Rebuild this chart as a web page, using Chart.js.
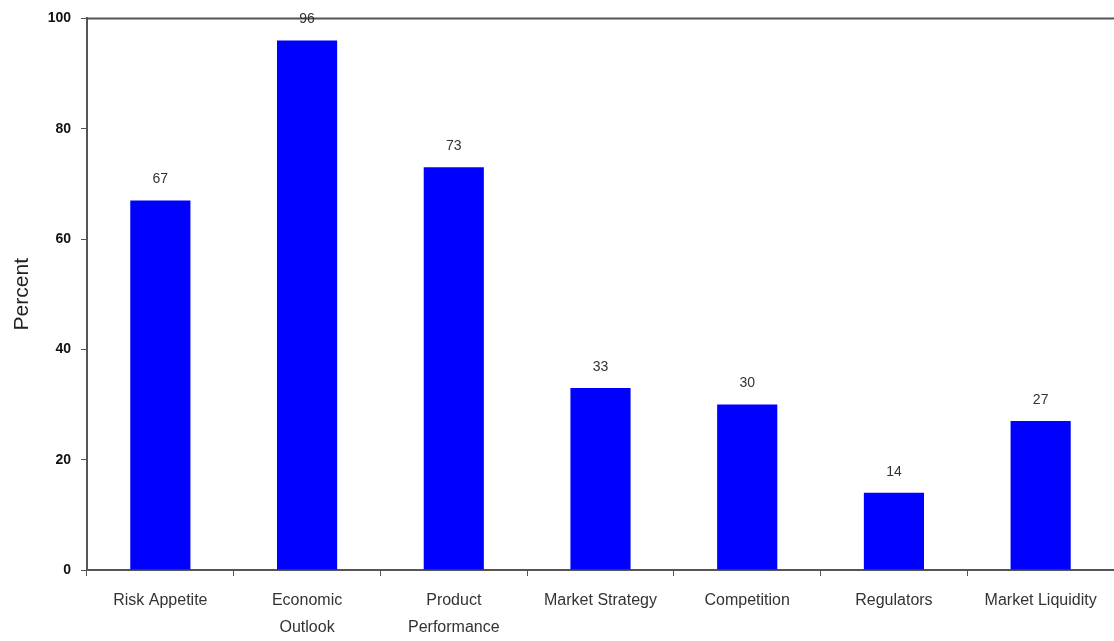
<!DOCTYPE html>
<html>
<head>
<meta charset="utf-8">
<script src="https://cdn.jsdelivr.net/npm/chart.js@4"></script>
<style>
  html, body { margin: 0; padding: 0; background: #fff; overflow: hidden; }
  #wrap { width: 1114px; height: 641px; }
</style>
</head>
<body>
<div id="wrap"><canvas id="myChart"></canvas></div>
<script>
// Chart data
var categories = ['Risk Appetite', ['Economic', 'Outlook'], ['Product', 'Performance'], 'Market Strategy', 'Competition', 'Regulators', 'Market Liquidity'];
var percents = [67, 96, 73, 33, 30, 14, 27];
var yTicks = [0, 20, 40, 60, 80, 100];

// Draws the value above every bar and the top frame line
const barLabels = {
  id: 'barLabels',
  afterDatasetsDraw(chart) {
    const ctx = chart.ctx;
    const area = chart.chartArea;
    ctx.save();
    ctx.strokeStyle = '#555';
    ctx.lineWidth = 2;
    ctx.beginPath();
    ctx.moveTo(area.left, area.top);
    ctx.lineTo(area.right, area.top);
    ctx.stroke();

    ctx.fillStyle = '#333';
    ctx.font = '14px Arial, "Liberation Sans"';
    ctx.textAlign = 'center';
    ctx.textBaseline = 'middle';
    chart.getDatasetMeta(0).data.forEach((bar, i) => {
      ctx.fillText(percents[i], bar.x, bar.y - 21);
    });
    ctx.restore();
  }
};

const ctx = document.getElementById('myChart');
var myChart = new Chart(ctx, {
  type: 'bar',
  data: {
    labels: categories,
    datasets: [{
      data: percents,
      backgroundColor: '#0000ff',
      categoryPercentage: 1,
      barPercentage: 0.41,
    }]
  },
  options: {
    responsive: true,
    maintainAspectRatio: false,
    animation: false,
    layout: { padding: { top: 18, right: 0, bottom: 0, left: 0 } },
    plugins: {
      legend: { display: false },
      tooltip: { enabled: false },
    },
    scales: {
      x: {
        offset: true,
        grid: { offset: true, drawOnChartArea: false, drawTicks: true, tickLength: 6, color: '#555' },
        border: { display: true, color: '#555', width: 2 },
        ticks: {
          color: '#333',
          padding: 11,
          maxRotation: 0,
          autoSkip: false,
          font: { family: 'Arial, "Liberation Sans"', size: 16, lineHeight: 1.7 },
        },
        afterFit: (scale) => { scale.height = 71; },
      },
      y: {
        min: 0,
        max: 100,
        afterBuildTicks: (scale) => { scale.ticks = yTicks.map(v => ({ value: v })); },
        grid: { drawOnChartArea: false, drawTicks: true, tickLength: 6, color: '#555' },
        border: { display: true, color: '#555', width: 2 },
        ticks: {
          color: '#111',
          padding: 10,
          font: { family: 'Arial, "Liberation Sans"', size: 14, weight: 'bold' },
        },
        title: {
          display: true,
          text: 'Percent',
          color: '#222',
          padding: { top: 10, bottom: 0 },
          font: { family: 'Arial, "Liberation Sans"', size: 21 },
        },
        afterFit: (scale) => { scale.width = 87; },
      }
    }
  },
  plugins: [barLabels]
});
</script>
</body>
</html>
